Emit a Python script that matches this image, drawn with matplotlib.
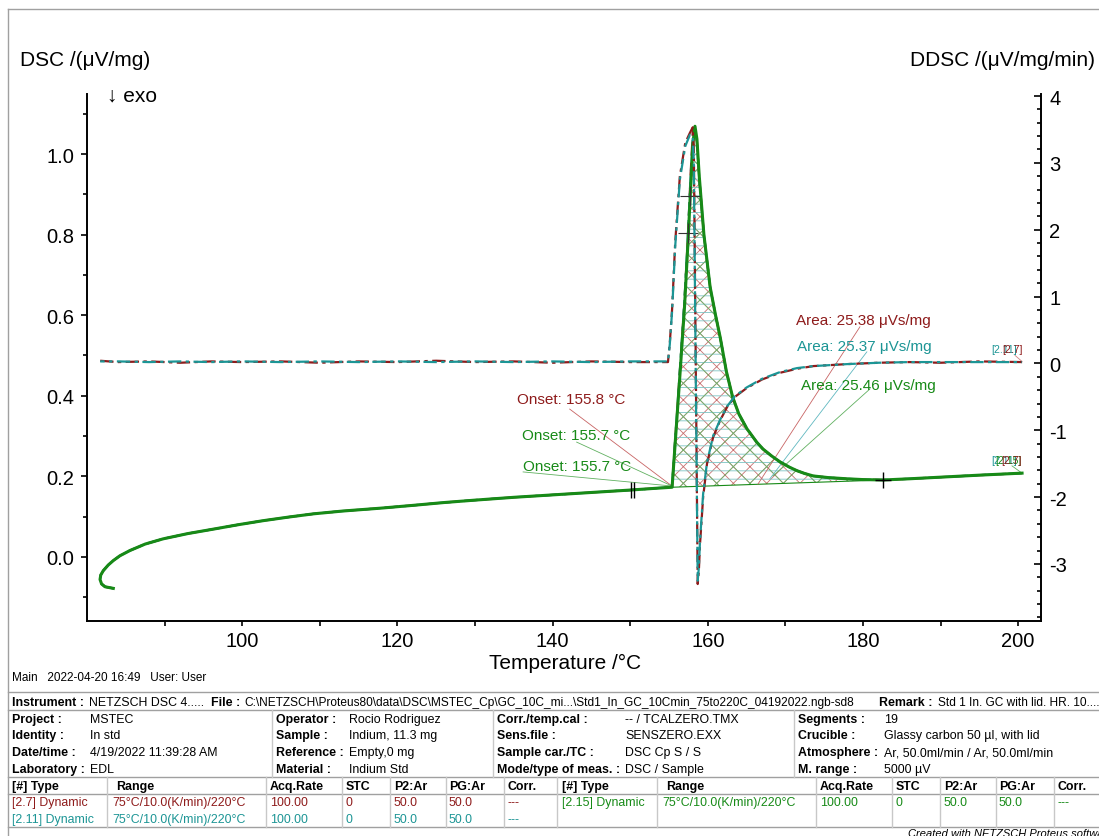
import numpy as np
import matplotlib
matplotlib.use('Agg')
import matplotlib.pyplot as plt
from matplotlib.lines import Line2D
from matplotlib.ticker import FixedLocator, MultipleLocator, FormatStrFormatter

plt.rcParams['font.family'] = ['Liberation Sans', 'DejaVu Sans']
plt.rcParams['hatch.linewidth'] = 0.6
plt.rcParams['axes.unicode_minus'] = False

W, H = 1099, 837
RED = '#8E1B1B'
TEAL = '#1C9595'
GREEN = '#178A17'

# ---------------- data ----------------
dsc_T = [83.39, 82.32, 81.88, 81.68, 81.77, 82.10, 82.74, 83.39, 84.25, 85.54,
         87.5, 89.83, 93.0, 96.28, 99.5, 102.7, 106.0, 109.2, 113.0, 117.8,
         122.0, 126.0, 130.0, 135.0, 140.0, 145.0, 150.0, 153.0,
         155.4, 155.8, 156.4, 157.0, 157.45, 157.8, 158.1, 158.35, 158.6, 158.9,
         159.5, 160.3, 161.0, 161.6, 162.4, 163.2, 164.0, 165.05, 166.3, 167.1,
         168.2, 169.3, 170.5, 171.5, 172.5, 173.6, 175.5, 177.9, 180.0, 182.6,
         186.0, 190.0, 195.0, 200.5]
dsc_green = [-0.078, -0.074, -0.067, -0.056, -0.045, -0.034, -0.020, -0.009, 0.003, 0.016,
             0.032, 0.045, 0.058, 0.069, 0.080, 0.090, 0.099, 0.107, 0.114, 0.121,
             0.128, 0.135, 0.141, 0.148, 0.154, 0.160, 0.166, 0.170,
             0.173, 0.283, 0.449, 0.620, 0.782, 0.920, 1.030, 1.069, 1.037, 0.945,
             0.800, 0.670, 0.600, 0.545, 0.460, 0.397, 0.355, 0.318, 0.285, 0.268,
             0.251, 0.236, 0.223, 0.214, 0.207, 0.201, 0.197, 0.194, 0.192, 0.191,
             0.194, 0.198, 0.203, 0.208]
dsc_red = [-0.078, -0.074, -0.067, -0.056, -0.045, -0.034, -0.020, -0.009, 0.003, 0.016,
           0.032, 0.045, 0.058, 0.069, 0.080, 0.090, 0.099, 0.107, 0.114, 0.121,
           0.128, 0.135, 0.141, 0.148, 0.154, 0.160, 0.166, 0.170,
           0.174, 0.290, 0.460, 0.635, 0.800, 0.955, 1.066, 1.060, 1.030, 0.940,
           0.800, 0.670, 0.600, 0.545, 0.460, 0.397, 0.355, 0.318, 0.285, 0.268,
           0.251, 0.236, 0.223, 0.214, 0.207, 0.201, 0.197, 0.194, 0.192, 0.191,
           0.194, 0.198, 0.203, 0.208]
dsc_teal = [-0.078, -0.074, -0.067, -0.056, -0.045, -0.034, -0.020, -0.009, 0.003, 0.016,
            0.032, 0.045, 0.058, 0.069, 0.080, 0.090, 0.099, 0.107, 0.114, 0.121,
            0.128, 0.135, 0.141, 0.148, 0.154, 0.160, 0.166, 0.170,
            0.174, 0.292, 0.462, 0.640, 0.805, 0.950, 1.050, 1.055, 1.030, 0.940,
            0.800, 0.670, 0.600, 0.545, 0.460, 0.397, 0.355, 0.318, 0.285, 0.268,
            0.251, 0.236, 0.223, 0.214, 0.207, 0.201, 0.197, 0.194, 0.192, 0.191,
            0.194, 0.198, 0.203, 0.208]

ddsc_T = [81.7, 84.0, 88.0, 92.0, 96.0, 100.0, 105.0, 110.0, 115.0, 120.0,
          125.0, 130.0, 135.0, 140.0, 145.0, 150.0,
          154.87, 155.1, 155.4, 155.8, 156.4, 157.1, 157.7, 158.05, 158.2, 158.45,
          158.7, 158.85, 159.0, 159.4, 159.9, 160.7, 161.6, 162.5, 163.5, 165.0,
          167.0, 169.3, 171.5, 173.6, 178.0, 182.0, 186.0, 190.0, 195.0, 200.5]
ddsc_red = [0.04, 0.02, 0.03, 0.01, 0.03, 0.02, 0.03, 0.01, 0.03, 0.02,
            0.04, 0.02, 0.03, 0.01, 0.03, 0.02,
            0.02, 0.30, 0.81, 1.81, 2.80, 3.30, 3.45, 3.53, 3.20, 0.00,
            -3.30, -3.10, -2.70, -2.00, -1.50, -1.10, -0.85, -0.65, -0.50, -0.37,
            -0.24, -0.14, -0.08, -0.04, -0.01, 0.01, 0.02, 0.01, 0.03, 0.02]
ddsc_teal = [0.03, 0.03, 0.02, 0.03, 0.02, 0.03, 0.02, 0.03, 0.02, 0.03,
             0.02, 0.03, 0.02, 0.03, 0.02, 0.03,
             0.03, 0.28, 0.78, 1.75, 2.75, 3.25, 3.42, 3.40, 3.00, -0.20,
             -3.25, -3.05, -2.65, -1.95, -1.48, -1.08, -0.84, -0.64, -0.49, -0.36,
             -0.23, -0.13, -0.07, -0.04, -0.01, 0.01, 0.02, 0.02, 0.02, 0.02]

base_T = [155.4, 182.6]          # integration baseline
base_v = [0.173, 0.191]

onset_pt = (155.39, 0.176)
onset_labels = ['Onset: 155.8 °C', 'Onset: 155.7 °C', 'Onset: 155.7 °C']
onset_colors = [RED, GREEN, GREEN]
onset_text_xy = [(142.37, 0.392), (143.0, 0.303), (143.15, 0.226)]
onset_leader_from = [(142.2, 0.367), (143.1, 0.285), (136.2, 0.211)]

area_labels = ['Area: 25.38 μVs/mg', 'Area: 25.37 μVs/mg', 'Area: 25.46 μVs/mg']
area_colors = [RED, TEAL, GREEN]
area_text_xy = [(180.06, 0.588), (180.2, 0.524), (180.7, 0.427)]
area_leader_from = [(179.6, 0.571), (180.5, 0.509), (180.9, 0.417)]
area_leader_to = [(166.47, 0.181), (168.0, 0.194), (168.4, 0.201)]

cross_T = [157.7, 157.45]
cross_v = [0.896, 0.804]
tick_pair_T = [150.05, 150.45]
tick_pair_v = [0.166, 0.167]

# ---------------- figure ----------------
fig = plt.figure(figsize=(W / 100, H / 100), dpi=100)
ax = fig.add_axes([87 / W, 1 - 622 / H, (1041 - 87) / W, (622 - 95) / H])
ax2 = ax.twinx()

ax.set_xlim(80, 202.94)
ax.set_ylim(-0.159, 1.149)
ax2.set_ylim(-3.853, 4.03)

# hatched peak area
T_arr = np.array(dsc_T)
g_arr = np.array(dsc_green)
m = (T_arr >= base_T[0]) & (T_arr <= base_T[1])
poly_T = np.concatenate([T_arr[m], base_T[::-1]])
poly_v = np.concatenate([g_arr[m], base_v[::-1]])
ax.fill(poly_T, poly_v, facecolor='none', edgecolor='#C87070', lw=0, hatch='xx', zorder=1)
ax.fill(poly_T, poly_v, facecolor='none', edgecolor='#7CC4C4', lw=0, hatch='--', zorder=1)
ax.fill(poly_T, poly_v, facecolor='none', edgecolor='#6DB56D', lw=0, hatch='x', zorder=1)
ax.plot(base_T, base_v, color=GREEN, lw=0.8, zorder=2)

# DSC curves
ax.plot(dsc_T, dsc_red, color=RED, lw=1.6, ls=(0, (6, 3)), zorder=3)
ax.plot(dsc_T, dsc_teal, color=TEAL, lw=1.6, ls=(0, (6, 2, 2, 2)), zorder=3)
ax.plot(dsc_T, dsc_green, color=GREEN, lw=2.2, zorder=4)

# markers
ax.plot(cross_T, cross_v, ls='none', marker='+', ms=14, mew=0.8, color='#333333', zorder=5)
ax.plot(tick_pair_T, tick_pair_v, ls='none', marker='|', ms=11, mew=1.0, color='black', zorder=5)
ax.plot([base_T[1]], [base_v[1]], ls='none', marker='+', ms=12, mew=1.0, color='black', zorder=5)

# onset annotations
for s, c, (tx, ty), (fx_, fy_) in zip(onset_labels, onset_colors, onset_text_xy, onset_leader_from):
    ax.text(tx, ty, s, color=c, fontsize=11, ha='center', va='center', zorder=6)
    lc = '#C86464' if c == RED else '#60B060'
    ax.plot([fx_, onset_pt[0]], [fy_, onset_pt[1]], color=lc, lw=0.6, zorder=2)

for s, c, (tx, ty), (fx_, fy_), (ex, ey) in zip(area_labels, area_colors, area_text_xy,
                                                 area_leader_from, area_leader_to):
    ax.text(tx, ty, s, color=c, fontsize=11, ha='center', va='center', zorder=6)
    lc = {RED: '#C86464', TEAL: '#60B8C0', GREEN: '#60B060'}[c]
    ax.plot([fx_, ex], [fy_, ey], color=lc, lw=0.6, zorder=2)

# DDSC curves on right axis
ax2.plot(ddsc_T, ddsc_red, color=RED, lw=1.6, ls=(0, (6, 2, 1.5, 2)), zorder=3)
ax2.plot(ddsc_T, ddsc_teal, color=TEAL, lw=1.6, ls=(4, (6, 2, 1.5, 2)), zorder=3)

# curve end labels (overlapping, as in the original)
ax2.text(198.17, 0.209, '[2.11]', color=TEAL, fontsize=7.5, ha='center', va='center')
ax2.text(199.33, 0.209, '[2.7]', color=RED, fontsize=7.5, ha='center', va='center')
ax2.plot([199.59, 200.49], [0.12, 0.03], color='#D08080', lw=0.6)
ax.text(198.17, 0.241, '[2.11]', color=TEAL, fontsize=7.5, ha='center', va='center')
ax.text(198.69, 0.241, '[2.15]', color=GREEN, fontsize=7.5, ha='center', va='center')
ax.text(199.2, 0.241, '[2.7]', color=RED, fontsize=7.5, ha='center', va='center')
ax.plot([199.2, 200.49], [0.226, 0.208], color='#60B060', lw=0.6)

# axes styling
for sp in ['top', 'right']:
    ax.spines[sp].set_visible(False)
for sp in ['top', 'left', 'bottom']:
    ax2.spines[sp].set_visible(False)
for sp in ['left', 'bottom']:
    ax.spines[sp].set_linewidth(1.4)
ax2.spines['right'].set_linewidth(1.4)

ax.xaxis.set_major_locator(FixedLocator([100, 120, 140, 160, 180, 200]))
ax.xaxis.set_minor_locator(FixedLocator([90, 110, 130, 150, 170, 190]))
ax.yaxis.set_major_locator(FixedLocator([0.0, 0.2, 0.4, 0.6, 0.8, 1.0]))
ax.yaxis.set_minor_locator(FixedLocator([-0.1, 0.1, 0.3, 0.5, 0.7, 0.9, 1.1]))
ax.yaxis.set_major_formatter(FormatStrFormatter('%.1f'))
ax2.yaxis.set_major_locator(FixedLocator([-3, -2, -1, 0, 1, 2, 3, 4]))
ax2.yaxis.set_minor_locator(MultipleLocator(0.2))

ax.tick_params(axis='x', which='both', direction='out', length=3.5, width=1.2,
               labelsize=14.5, pad=3.5)
ax.tick_params(axis='y', which='major', direction='out', length=4, width=1.2,
               labelsize=14.5, pad=5)
ax.tick_params(axis='y', which='minor', direction='out', length=3, width=1.2)
ax2.tick_params(axis='y', which='major', direction='in', length=5, width=1.2,
                labelsize=14.5, pad=6)
ax2.tick_params(axis='y', which='minor', direction='in', length=3, width=1.2)

# axis titles
def fx(x):
    return x / W

def fy(y):
    return 1 - y / H

fig.text(fx(20), fy(61), 'DSC /(μV/mg)', fontsize=15, ha='left', va='center')
fig.text(fx(1095), fy(61), 'DDSC /(μV/mg/min)', fontsize=15, ha='right', va='center')
fig.text(fx(107), fy(96), '↓ exo', fontsize=15, ha='left', va='center')
fig.text(fx(565), fy(663), 'Temperature /°C', fontsize=15, ha='center', va='center')
fig.text(fx(12), fy(678), 'Main   2022-04-20 16:49   User: User', fontsize=8.5,
         family=['Liberation Sans Narrow', 'Liberation Sans'], ha='left', va='center')

# ---------------- frame & info table ----------------
def hline(y, x0=8, x1=W, c='#A0A0A0', lw=1.0):
    fig.add_artist(Line2D([fx(x0), fx(x1)], [fy(y), fy(y)], color=c, lw=lw,
                          transform=fig.transFigure))

def vline(x, y0, y1, c='#A0A0A0', lw=1.0):
    fig.add_artist(Line2D([fx(x), fx(x)], [fy(y0), fy(y1)], color=c, lw=lw,
                          transform=fig.transFigure))

hline(10)
vline(8, 10, H)
for y in [693, 711, 778, 795, 828]:
    hline(y)
for x in [272, 493, 794]:
    vline(x, 711, 778, c='#C8C8C8')
for x in [107, 266, 342, 390, 446, 504, 557, 657, 816, 892, 940, 996, 1054]:
    vline(x, 778, 828, c='#C8C8C8')

FS = 8.9

def t(x, y, s, bold=False, color='black', fs=FS, **kw):
    fig.text(fx(x), fy(y), s, fontsize=fs, ha='left', va='center', color=color,
             fontweight='bold' if bold else 'normal', **kw)

t(12, 703, 'Instrument :', True)
t(89, 703, 'NETZSCH DSC 4.....')
t(211, 703, 'File :', True)
t(244, 703, r'C:\NETZSCH\Proteus80\data\DSC\MSTEC_Cp\GC_10C_mi...\Std1_In_GC_10Cmin_75to220C_04192022.ngb-sd8', fs=8.6)
t(879, 703, 'Remark :', True)
t(938, 703, 'Std 1 In. GC with lid. HR. 10....', fs=8.6)

info_rows_y = [720, 736, 753, 770]
info_cols = [
    (12, 90, ['Project :', 'Identity :', 'Date/time :', 'Laboratory :'],
     ['MSTEC', 'In std', '4/19/2022 11:39:28 AM', 'EDL']),
    (276, 349, ['Operator :', 'Sample :', 'Reference :', 'Material :'],
     ['Rocio Rodriguez', 'Indium, 11.3 mg', 'Empty,0 mg', 'Indium Std']),
    (497, 625, ['Corr./temp.cal :', 'Sens.file :', 'Sample car./TC :', 'Mode/type of meas. :'],
     ['-- / TCALZERO.TMX', 'SENSZERO.EXX', 'DSC Cp S / S', 'DSC / Sample']),
    (798, 884, ['Segments :', 'Crucible :', 'Atmosphere :', 'M. range :'],
     ['19', 'Glassy carbon 50 µl, with lid', 'Ar, 50.0ml/min / Ar, 50.0ml/min', '5000 µV']),
]
for lx, vx, labels, values in info_cols:
    for y, lab, val in zip(info_rows_y, labels, values):
        t(lx, y, lab, True)
        t(vx, y, val)

hdr = ['[#] Type', 'Range', 'Acq.Rate', 'STC', 'P2:Ar', 'PG:Ar', 'Corr.']
hdr_x = [12, 116, 270, 346, 394, 449, 508]
val_x = [12, 112, 270, 346, 394, 449, 508]
seg_rows = [
    (0, 803, RED, ['[2.7] Dynamic', '75°C/10.0(K/min)/220°C', '100.00', '0', '50.0', '50.0', '---']),
    (0, 820, TEAL, ['[2.11] Dynamic', '75°C/10.0(K/min)/220°C', '100.00', '0', '50.0', '50.0', '---']),
    (550, 803, GREEN, ['[2.15] Dynamic', '75°C/10.0(K/min)/220°C', '100.00', '0', '50.0', '50.0', '---']),
]
for off in [0, 550]:
    for x, h in zip(hdr_x, hdr):
        t(x + off, 787, h, True)
for off, y, c, vals in seg_rows:
    for x, v in zip(val_x, vals):
        t(x + off, y, v, color=c)

fig.text(fx(908), fy(829), 'Created with NETZSCH Proteus software', fontsize=8,
         style='italic', ha='left', va='top')

fig.savefig('out.png', dpi=100)
